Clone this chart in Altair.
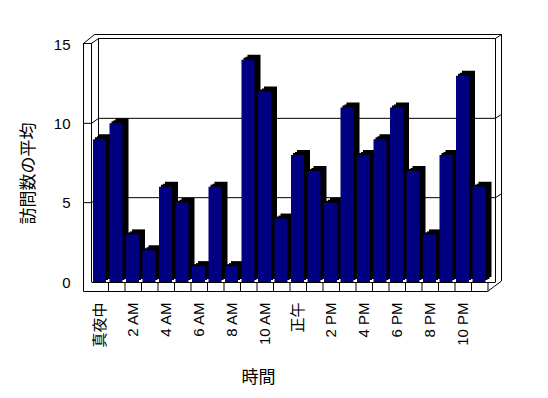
import altair as alt
import pandas as pd

# ---- data ----
hours = ["真夜中", "1 AM", "2 AM", "3 AM", "4 AM", "5 AM", "6 AM", "7 AM", "8 AM", "9 AM",
         "10 AM", "11 AM", "正午", "1 PM", "2 PM", "3 PM", "4 PM", "5 PM", "6 PM", "7 PM",
         "8 PM", "9 PM", "10 PM", "11 PM"]
visits = [9, 10, 3, 2, 6, 5, 1, 6, 1, 14, 12, 4, 8, 7, 5, 11, 8, 9, 11, 7, 3, 8, 13, 6]
y_ticks = [0, 5, 10, 15]
x_label_hours = hours[::2]
grid_values = [5, 10]

df = pd.DataFrame({"時間": hours, "訪問数の平均": visits})
df_grid = pd.DataFrame({"v": grid_values})
one = pd.DataFrame({"a": [0]})

FONT = "Liberation Sans, Noto Sans CJK JP"
W, H = 418, 238

x_scale = alt.Scale(domain=hours, range=[9, 405], paddingInner=0, paddingOuter=0)
y_scale = alt.Scale(domain=[0, 15], nice=False, zero=True)

x_axis = alt.Axis(values=x_label_hours, labelAngle=270, labelAlign="right", labelBaseline="middle",
                  labelPadding=20, ticks=False, domain=False, grid=False, labelOverlap=False,
                  labelFont=FONT, labelFontSize=15, labelColor="black",
                  title="時間", titleFont=FONT, titleFontSize=17, titleFontWeight="normal",
                  titleColor="black", titleX=175, titleY=95, titleAlign="center", titleBaseline="middle")
y_axis = alt.Axis(values=y_ticks, ticks=False, domain=False, grid=False, labelPadding=13,
                  labelFont=FONT, labelFontSize=15, labelColor="black",
                  title="訪問数の平均", titleFont=FONT, titleFontSize=17, titleFontWeight="normal",
                  titleColor="black", titleAngle=270, titleX=-55, titleY=129,
                  titleAlign="center", titleBaseline="middle")


def xf(band=None):
    kw = {}
    if band is not None:
        kw["bandPosition"] = band
    return alt.X("時間:N", sort=hours, scale=x_scale, axis=x_axis, **kw)


def seg(x1, x2, v1, v2, o1=0.0, o2=0.0):
    return alt.Chart(one).mark_rule(color="black", strokeWidth=1, yOffset=o1, y2Offset=o2).encode(
        x=alt.value(x1), x2=alt.value(x2),
        y=alt.YDatum(v1, scale=y_scale, axis=y_axis), y2=alt.Y2Datum(v2))


frame = [
    seg(0.5, 0.5, 15, 0, -1, 9.5),          # left wall outer
    seg(8.5, 8.5, 15, 0, -1, 0),            # left wall inner
    seg(0.5, 8.5, 15, 15, -0.5, -0.5),      # left wall top
    seg(0.5, 11.5, 15, 15, -0.5, -9.5),     # diag outer
    seg(8.5, 15.5, 15, 15, -0.5, -5.5),     # diag inner
    seg(11.5, 418.5, 15, 15, -9.5, -9.5),   # back wall outer top
    seg(15.5, 412.5, 15, 15, -5.5, -5.5),   # back wall inner top
    seg(15.5, 15.5, 15, 0, -5.5, 0),        # back wall inner left
    seg(412.5, 412.5, 15, 0, -5.5, 0),      # back wall inner right
    seg(418.5, 418.5, 15, 0, -9.5, -1),     # back wall outer right
    seg(412.5, 418.5, 15, 15, -5.5, -9.5),  # top right diag
    seg(404.5, 418.5, 0, 0, 9.5, -1),       # bottom right diag
    seg(0.5, 404.5, 0, 0, 9.5, 9.5),        # floor front
    seg(8.5, 412.5, 0, 0, 0.5, 0.5),        # floor back
]

grid_y = alt.Y("v:Q", scale=y_scale, axis=y_axis)
grid = [
    alt.Chart(df_grid).mark_rule(color="black").encode(x=alt.value(0.5), x2=alt.value(8.5), y=grid_y, y2="v:Q"),
    alt.Chart(df_grid).mark_rule(color="black", y2Offset=-5).encode(x=alt.value(8.5), x2=alt.value(15.5), y=grid_y, y2="v:Q"),
    alt.Chart(df_grid).mark_rule(color="black", yOffset=-5, y2Offset=-5).encode(x=alt.value(15.5), x2=alt.value(412.5), y=grid_y, y2="v:Q"),
    alt.Chart(df_grid).mark_rule(color="black", yOffset=-5, y2Offset=-9).encode(x=alt.value(412.5), x2=alt.value(418.5), y=grid_y, y2="v:Q"),
]

dividers = alt.Chart(df).mark_rule(color="black", yOffset=0, y2Offset=9.5).encode(
    x=xf(band=1), y=alt.YDatum(0, scale=y_scale, axis=y_axis), y2=alt.Y2Datum(0))

y_main = alt.Y("訪問数の平均:Q", scale=y_scale, axis=y_axis)
shadows = [
    alt.Chart(df).mark_bar(color="black", width=13, xOffset=-0.75 + dx, yOffset=dy, y2Offset=0).encode(
        x=xf(), y=y_main)
    for dx, dy in [(2, -2), (4, -3), (6, -5)]
]

bars = alt.Chart(df).mark_bar(color="#000080", width=13, xOffset=-0.75).encode(x=xf(), y=y_main)

chart = alt.layer(*frame, *grid, dividers, *shadows, bars).properties(
    width=W, height=H,
    autosize=alt.AutoSizeParams(type="none"),
    padding={"left": 75, "top": 36, "right": 20, "bottom": 110},
    background="white",
).configure_view(stroke="transparent")

chart.save("out.html", embed_options={"renderer": "svg", "actions": False})
